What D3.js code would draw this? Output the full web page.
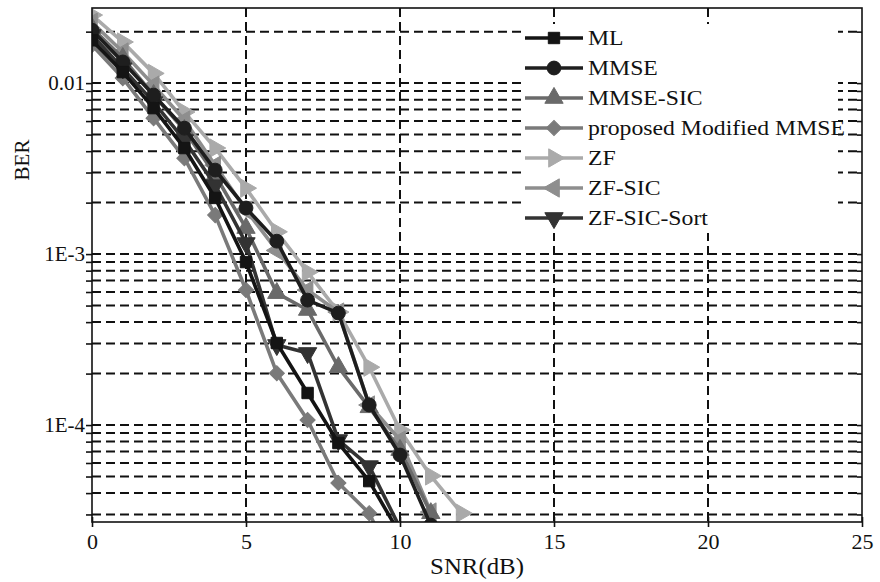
<!DOCTYPE html>
<html>
<head>
<meta charset="utf-8">
<script src="https://cdn.jsdelivr.net/npm/d3@7"></script>
<style>
  body { margin: 0; background: #fff; }
  svg { display: block; }
  text { font-family: "Liberation Serif", "Times New Roman", serif; fill: #111; }
</style>
</head>
<body>
<svg id="chart" width="880" height="582"></svg>
<script>
// SNR (dB) on the x axis, BER values
const snr = [0, 1, 2, 3, 4, 5, 6, 7, 8, 9, 10, 11, 12];

const berML = [0.0178, 0.0116, 0.00714, 0.00417, 0.00213, 8.98e-4, 3.02e-4, 1.54e-4, 7.85e-5, 4.7e-5, 2.3e-5];
const berMMSE = [0.0204, 0.0133, 0.00851, 0.00545, 0.0031, 0.00186, 0.00119, 5.38e-4, 4.52e-4, 1.31e-4, 6.68e-5, 2.6e-5];
const berMMSESIC = [0.021, 0.014, 0.00851, 0.00531, 0.0029, 0.00142, 5.91e-4, 4.71e-4, 2.18e-4, 1.27e-4, 7.14e-5, 3.05e-5];
const berProposed = [0.0167, 0.0107, 0.00624, 0.00364, 0.00169, 6.16e-4, 2.01e-4, 1.07e-4, 4.58e-5, 3.05e-5, 1.3e-5];
const berZF = [0.025, 0.0174, 0.0114, 0.00677, 0.00417, 0.00243, 0.00135, 7.85e-4, 4.58e-4, 2.18e-4, 9.35e-5, 5.04e-5, 3.05e-5];
const berZFSIC = [0.0227, 0.0152, 0.00973, 0.00608, 0.00331, 0.00181, 0.00105, 6.16e-4, 4.58e-4, 1.31e-4, 8.17e-5, 3.1e-5];
const berZFSICSort = [0.0191, 0.0122, 0.00774, 0.00464, 0.00253, 0.00116, 2.94e-4, 2.64e-4, 8.17e-5, 5.75e-5, 2.5e-5];

const seriesNames = ['ML', 'MMSE', 'MMSE-SIC', 'proposed Modified MMSE', 'ZF', 'ZF-SIC', 'ZF-SIC-Sort'];
const seriesValues = [berML, berMMSE, berMMSESIC, berProposed, berZF, berZFSIC, berZFSICSort];

const xTicks = [0, 5, 10, 15, 20, 25];
const yLabelVals = [1e-4, 1e-3, 1e-2];
const yLabelText = ['1E-4', '1E-3', '0.01'];

// look of each series (grayscale like the scan)
const colors = ['#141414', '#1e1e1e', '#6a6a6a', '#7a7a7a', '#aaaaaa', '#8e8e8e', '#333333'];
const shapes = [
	{ type: d3.symbolSquare, rot: 0, size: 130 },
	{ type: d3.symbolCircle, rot: 0, size: 150 },
	{ type: d3.symbolTriangle, rot: 0, size: 145 },
	{ type: d3.symbolSquare, rot: 45, size: 115 },
	{ type: d3.symbolTriangle, rot: 90, size: 145 },
	{ type: d3.symbolTriangle, rot: -90, size: 145 },
	{ type: d3.symbolTriangle, rot: 180, size: 145 }
];
const drawOrder = [4, 5, 2, 3, 6, 1, 0];

const margin = { top: 8, right: 18, bottom: 60, left: 92 };
const width = 880 - margin.left - margin.right;
const height = 582 - margin.top - margin.bottom;

const svg = d3.select('#chart');
const g = svg.append('g').attr('transform', `translate(${margin.left},${margin.top})`);

const x = d3.scaleLinear().domain([0, 25]).range([0, width]);
const y = d3.scaleLog().domain([2.71e-5, 0.0275]).range([height, 0]);

svg.append('defs').append('clipPath').attr('id', 'plotclip')
	.append('rect').attr('width', width).attr('height', height);

// grid
const yGridVals = y.ticks();
g.append('g').selectAll('line.hg')
	.data(yGridVals)
	.join('line')
	.attr('class', 'hg')
	.attr('x1', 0).attr('x2', width)
	.attr('y1', d => y(d)).attr('y2', d => y(d))
	.attr('stroke', '#111').attr('stroke-width', 2).attr('stroke-dasharray', '9,5');

g.append('g').selectAll('line.vg')
	.data(xTicks.slice(1, -1))
	.join('line')
	.attr('class', 'vg')
	.attr('x1', d => x(d)).attr('x2', d => x(d))
	.attr('y1', 0).attr('y2', height)
	.attr('stroke', '#111').attr('stroke-width', 2).attr('stroke-dasharray', '9,5');

// curves
const line = d3.line()
	.x((d, i) => x(snr[i]))
	.y(d => y(d));

const plot = g.append('g').attr('clip-path', 'url(#plotclip)');

drawOrder.forEach(k => {
	const vals = seriesValues[k];
	plot.append('path')
		.datum(vals)
		.attr('d', line)
		.attr('fill', 'none')
		.attr('stroke', colors[k])
		.attr('stroke-width', 3.6)
		.attr('stroke-linejoin', 'round');
	plot.selectAll(null)
		.data(vals)
		.join('path')
		.attr('d', d3.symbol().type(shapes[k].type).size(shapes[k].size))
		.attr('transform', (d, i) => `translate(${x(snr[i])},${y(d)}) rotate(${shapes[k].rot})`)
		.attr('fill', colors[k])
		.attr('stroke', colors[k])
		.attr('stroke-width', 1);
});

// frame
g.append('rect')
	.attr('width', width).attr('height', height)
	.attr('fill', 'none').attr('stroke', '#111').attr('stroke-width', 1.6);

// left axis
const yAxis = d3.axisLeft(y)
	.tickValues(yGridVals)
	.tickSize(6)
	.tickFormat(d => {
		const idx = yLabelVals.findIndex(v => Math.abs(v - d) / v < 1e-6);
		return idx >= 0 ? yLabelText[idx] : '';
	});
const ya = g.append('g').call(yAxis);
ya.select('.domain').remove();
ya.selectAll('line').attr('stroke', '#111').attr('stroke-width', 1.6);
ya.selectAll('text').attr('font-size', 21).attr('x', -7)
	.style('font-family', '"Liberation Serif", serif').attr('fill', '#111');

// right axis ticks (inward)
const yr = g.append('g').attr('transform', `translate(${width},0)`)
	.call(d3.axisLeft(y).tickValues(yGridVals).tickSize(5).tickFormat(''));
yr.select('.domain').remove();
yr.selectAll('line').attr('stroke', '#111').attr('stroke-width', 1.6);

// bottom axis
const xAxis = d3.axisBottom(x).tickValues(xTicks).tickSize(5).tickPadding(6);
const xa = g.append('g').attr('transform', `translate(0,${height})`).call(xAxis);
xa.select('.domain').remove();
xa.selectAll('line').attr('y1', -5).attr('stroke', '#111').attr('stroke-width', 1.6);
xa.selectAll('text').attr('font-size', 22)
	.style('font-family', '"Liberation Serif", serif').attr('fill', '#111');

// axis titles
svg.append('text')
	.attr('transform', 'translate(477,574) scale(1.08,1)')
	.attr('text-anchor', 'middle')
	.attr('font-size', 23)
	.text('SNR(dB)');

svg.append('text')
	.attr('transform', 'translate(29,160) rotate(-90)')
	.attr('text-anchor', 'middle')
	.attr('font-size', 21)
	.text('BER');

// legend
const legend = svg.append('g');
legend.append('rect')
	.attr('x', 522).attr('y', 24).attr('width', 316).attr('height', 209)
	.attr('fill', '#fff');

seriesNames.forEach((name, k) => {
	const ly = 38 + k * 30;
	const row = legend.append('g');
	row.append('line')
		.attr('x1', 525).attr('x2', 583)
		.attr('y1', ly).attr('y2', ly)
		.attr('stroke', colors[k]).attr('stroke-width', 3.6);
	row.append('path')
		.attr('d', d3.symbol().type(shapes[k].type).size(shapes[k].size)())
		.attr('transform', `translate(554,${ly}) rotate(${shapes[k].rot})`)
		.attr('fill', colors[k]).attr('stroke', colors[k]);
	row.append('text')
		.attr('transform', `translate(588,${ly + 7}) scale(1.13,1)`)
		.attr('font-size', 21)
		.text(name);
});
</script>
</body>
</html>
